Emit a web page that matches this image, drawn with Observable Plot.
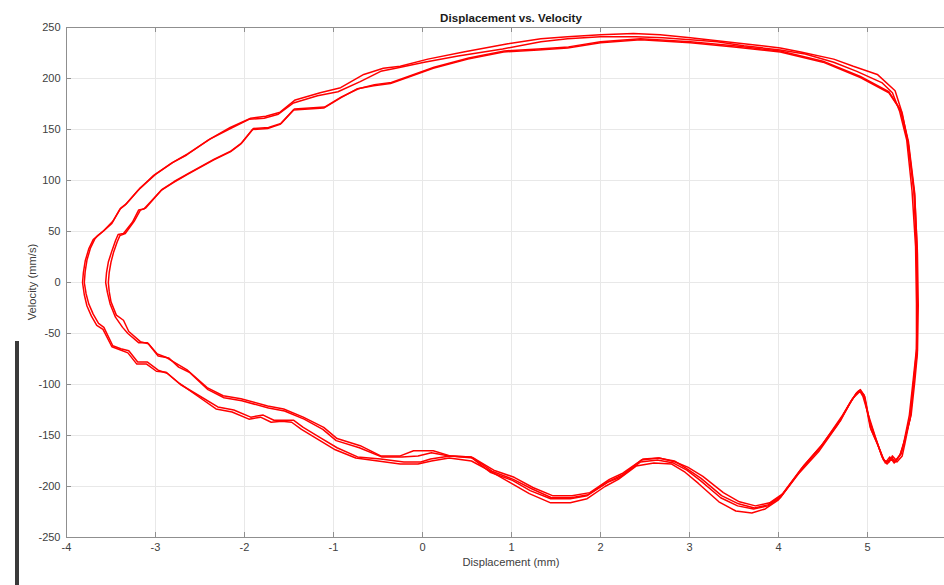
<!DOCTYPE html>
<html>
<head>
<meta charset="utf-8">
<script src="https://cdn.jsdelivr.net/npm/d3@7"></script>
<script src="https://cdn.jsdelivr.net/npm/@observablehq/plot@0.6"></script>
<style>
  html, body { margin: 0; padding: 0; background: #fff; overflow: hidden; }
  #wrap { position: relative; width: 944px; height: 585px; overflow: hidden; font-family: "Liberation Sans", Arial, sans-serif; }
  .title { position: absolute; left: 66px; width: 890px; top: 11px; text-align: center; font-weight: bold; font-size: 11.6px; color: #1a1a1a; }
  .xlabel { position: absolute; left: 66px; width: 890px; top: 556px; text-align: center; font-size: 11.2px; color: #404040; }
  .ylabel { position: absolute; left: 32px; top: 282px; transform: translate(-50%, -50%) rotate(-90deg); font-size: 11.2px; color: #404040; white-space: nowrap; }
  .bar { position: absolute; left: 15px; top: 341px; width: 4px; height: 244px; background: #3a3a3a; }
</style>
</head>
<body>
<div id="wrap"></div>
<script>
// ---- Data (displacement in mm, velocity in mm/s) ----
const titleText = "Displacement vs. Velocity";
const xLabelText = "Displacement (mm)";
const yLabelText = "Velocity (mm/s)";
const xTicks = [-4, -3, -2, -1, 0, 1, 2, 3, 4, 5];
const yTicks = [-250, -200, -150, -100, -50, 0, 50, 100, 150, 200, 250];

// cycle A: outer left tip, upper top line
const cycleA = [[-3.80,0],[-3.79,11],[-3.77,22],[-3.73,34],[-3.68,43],[-3.65,46],[-3.58,51],[-3.48,60],[-3.39,73],[-3.33,77],[-3.18,92],[-3.00,106],[-2.80,118],[-2.64,126],[-2.38,141],[-2.16,152],[-1.93,161],[-1.76,163],[-1.60,167],[-1.43,179],[-1.15,186],[-0.92,191],[-0.66,204],[-0.44,210],[-0.25,212],[0.06,219],[0.46,226],[0.96,234],[1.33,239],[1.63,241],[2.00,243],[2.37,244],[2.67,243],[3.01,240],[3.31,237],[3.61,234],[4.02,230],[4.25,226],[4.62,219],[4.84,212],[5.11,204],[5.31,188],[5.39,166],[5.46,135],[5.53,85],[5.56,31],[5.56,-18],[5.56,-67],[5.52,-96],[5.48,-132],[5.42,-158],[5.39,-170],[5.33,-176],[5.27,-172],[5.22,-176],[5.18,-174],[5.11,-158],[5.03,-142],[4.96,-110],[4.92,-106],[4.88,-108],[4.81,-117],[4.70,-135],[4.47,-162],[4.25,-184],[4.02,-211],[3.88,-219],[3.72,-222],[3.54,-219],[3.35,-211],[3.12,-194],[2.97,-184],[2.82,-177],[2.64,-174],[2.45,-176],[2.22,-191],[2.08,-196],[1.85,-209],[1.66,-212],[1.44,-212],[1.21,-204],[1.01,-194],[0.76,-186],[0.54,-171],[0.31,-170],[0.09,-173],[-0.02,-176],[-0.21,-176],[-0.47,-173],[-0.73,-171],[-0.96,-162],[-1.15,-152],[-1.34,-142],[-1.45,-135],[-1.56,-135],[-1.67,-135],[-1.79,-130],[-1.93,-132],[-2.12,-125],[-2.30,-122],[-2.49,-112],[-2.72,-100],[-2.87,-89],[-2.97,-86],[-3.09,-78],[-3.20,-78],[-3.30,-67],[-3.39,-65],[-3.48,-62],[-3.58,-44],[-3.64,-40],[-3.70,-31],[-3.75,-21],[-3.78,-11],[-3.80,0]];

// cycle B: outer left tip, middle top line
const cycleB = [[-3.82,0],[-3.81,10],[-3.79,21],[-3.75,33],[-3.70,42],[-3.66,45],[-3.59,50],[-3.49,58],[-3.40,72],[-3.34,76],[-3.20,90],[-3.02,105],[-2.82,117],[-2.65,125],[-2.40,140],[-2.18,150],[-1.95,160],[-1.78,161],[-1.62,165],[-1.45,176],[-1.18,183],[-0.95,187],[-0.70,197],[-0.47,207],[-0.30,210],[0.02,216],[0.40,222],[0.90,229],[1.33,236],[1.63,239],[2.00,241],[2.40,241],[2.70,240],[3.01,238],[3.31,236],[3.61,232],[4.02,228],[4.30,224],[4.62,216],[4.88,207],[5.16,196],[5.28,186],[5.36,168],[5.44,140],[5.50,90],[5.54,35],[5.55,-20],[5.55,-65],[5.51,-98],[5.47,-130],[5.41,-156],[5.37,-168],[5.30,-177],[5.25,-171],[5.20,-177],[5.16,-170],[5.09,-152],[5.01,-130],[4.95,-112],[4.91,-106],[4.87,-109],[4.79,-120],[4.66,-140],[4.45,-166],[4.22,-188],[4.00,-213],[3.85,-222],[3.70,-226],[3.52,-224],[3.33,-215],[3.10,-197],[2.95,-186],[2.80,-178],[2.60,-177],[2.40,-180],[2.20,-193],[2.05,-200],[1.85,-212],[1.66,-216],[1.44,-216],[1.20,-207],[0.98,-196],[0.74,-184],[0.55,-175],[0.30,-172],[0.10,-175],[-0.05,-178],[-0.25,-178],[-0.50,-175],[-0.75,-172],[-0.98,-164],[-1.17,-154],[-1.36,-144],[-1.47,-137],[-1.58,-136],[-1.70,-137],[-1.82,-132],[-1.95,-134],[-2.14,-127],[-2.32,-124],[-2.50,-113],[-2.73,-99],[-2.88,-88],[-2.99,-87],[-3.10,-80],[-3.21,-80],[-3.31,-69],[-3.40,-66],[-3.49,-63],[-3.59,-46],[-3.66,-42],[-3.72,-33],[-3.77,-23],[-3.80,-12],[-3.82,0]];

// cycle C: inner left tip, lower top line
const cycleC = [[-3.56,0],[-3.55,10],[-3.53,20],[-3.49,31],[-3.45,41],[-3.42,47],[-3.36,48],[-3.26,59],[-3.19,71],[-3.13,72],[-2.94,90],[-2.80,98],[-2.64,106],[-2.35,120],[-2.16,128],[-2.04,136],[-1.91,150],[-1.74,151],[-1.60,155],[-1.45,169],[-1.11,171],[-0.92,181],[-0.73,190],[-0.55,193],[-0.36,195],[-0.17,201],[0.12,210],[0.51,219],[0.91,226],[1.30,228],[1.63,230],[2.00,235],[2.45,238],[3.01,235],[3.50,231],[4.02,226],[4.50,216],[4.92,201],[5.24,186],[5.37,169],[5.45,140],[5.52,90],[5.55,30],[5.56,-20],[5.55,-68],[5.52,-96],[5.48,-133],[5.40,-160],[5.36,-170],[5.31,-176],[5.27,-173],[5.22,-178],[5.17,-172],[5.10,-155],[5.02,-135],[4.97,-114],[4.93,-107],[4.90,-108],[4.83,-114],[4.72,-130],[4.50,-158],[4.28,-180],[4.05,-207],[3.90,-216],[3.74,-219],[3.56,-215],[3.38,-206],[3.15,-190],[2.98,-181],[2.84,-176],[2.66,-172],[2.48,-173],[2.25,-187],[2.10,-193],[1.88,-206],[1.68,-209],[1.46,-209],[1.24,-201],[1.03,-191],[0.80,-184],[0.57,-172],[0.31,-170],[0.12,-165],[-0.10,-165],[-0.25,-170],[-0.47,-170],[-0.70,-160],[-0.96,-153],[-1.11,-142],[-1.34,-132],[-1.56,-124],[-1.74,-121],[-2.04,-114],[-2.24,-111],[-2.42,-103],[-2.64,-86],[-2.83,-76],[-2.89,-73],[-2.98,-70],[-3.09,-59],[-3.19,-59],[-3.31,-50],[-3.37,-44],[-3.45,-34],[-3.51,-21],[-3.54,-10],[-3.56,0]];

// cycle D: inner left tip, second pass
const cycleD = [[-3.53,0],[-3.52,10],[-3.50,20],[-3.47,30],[-3.43,40],[-3.40,46],[-3.34,48],[-3.24,60],[-3.17,71],[-3.11,73],[-2.93,91],[-2.79,99],[-2.63,107],[-2.34,121],[-2.15,129],[-2.03,137],[-1.90,151],[-1.73,152],[-1.59,156],[-1.44,170],[-1.10,172],[-0.91,182],[-0.72,190],[-0.54,194],[-0.35,196],[-0.16,202],[0.13,211],[0.52,220],[0.92,227],[1.30,229],[1.64,231],[2.00,236],[2.45,239],[3.01,236],[3.50,232],[4.02,227],[4.50,217],[4.92,202],[5.24,187],[5.38,168],[5.46,138],[5.53,88],[5.56,28],[5.57,-22],[5.56,-70],[5.53,-98],[5.49,-130],[5.41,-157],[5.38,-168],[5.32,-174],[5.28,-170],[5.24,-176],[5.19,-175],[5.12,-160],[5.04,-144],[4.97,-112],[4.92,-105],[4.89,-107],[4.82,-116],[4.70,-134],[4.48,-160],[4.26,-182],[4.03,-209],[3.88,-218],[3.73,-221],[3.55,-217],[3.36,-209],[3.13,-192],[2.96,-182],[2.83,-175],[2.65,-172],[2.46,-174],[2.24,-189],[2.09,-195],[1.86,-208],[1.67,-211],[1.45,-211],[1.22,-202],[1.02,-193],[0.78,-185],[0.55,-171],[0.30,-170],[0.10,-167],[-0.05,-170],[-0.23,-171],[-0.46,-171],[-0.71,-162],[-0.97,-155],[-1.12,-144],[-1.33,-134],[-1.55,-126],[-1.73,-123],[-2.03,-116],[-2.23,-113],[-2.41,-105],[-2.62,-88],[-2.74,-83],[-2.85,-74],[-2.97,-72],[-3.08,-60],[-3.17,-58],[-3.30,-48],[-3.36,-37],[-3.44,-32],[-3.50,-19],[-3.52,-9],[-3.53,0]];

const cycles = {A: cycleA, B: cycleB, C: cycleC, D: cycleD};
const rows = [];
for (const [name, pts] of Object.entries(cycles)) {
  for (const [d, v] of pts) rows.push({cycle: name, disp: d, vel: v});
}

const axisColor = "#8f8f8f";
const gridColor = "#e8e8e8";
const textColor = "#404040";
const fmt = d => String(d);

const chart = Plot.plot({
  width: 944,
  height: 585,
  marginLeft: 66,
  marginRight: 0,
  marginTop: 27,
  marginBottom: 48,
  style: {fontFamily: "'Liberation Sans', Arial, sans-serif", fontSize: "11px", color: textColor, background: "white", overflow: "visible"},
  x: {domain: [-4, 5.865], label: null},
  y: {domain: [-250, 250], label: null},
  marks: [
    Plot.gridX(xTicks, {stroke: gridColor, strokeOpacity: 1}),
    Plot.gridY(yTicks, {stroke: gridColor, strokeOpacity: 1}),
    Plot.ruleX([-4], {stroke: axisColor}),
    Plot.ruleY([-250, 250], {stroke: axisColor}),
    Plot.tickX(xTicks, {x: d => d, insetTop: 505, stroke: axisColor}),
    Plot.tickX(xTicks, {x: d => d, insetBottom: 505, stroke: axisColor}),
    Plot.tickY(yTicks, {y: d => d, insetRight: 873, stroke: axisColor}),
    Plot.axisX(xTicks, {tickSize: 0, tickPadding: 6, tickFormat: fmt, label: null, fill: textColor}),
    Plot.axisY(yTicks, {tickSize: 0, tickPadding: 6, tickFormat: fmt, label: null, fill: textColor}),
    Plot.line(rows, {x: "disp", y: "vel", z: "cycle", stroke: "#ff0000", strokeWidth: 1.5, curve: "linear"})
  ]
});

const wrap = document.getElementById("wrap");
wrap.appendChild(chart);
const t = document.createElement("div"); t.className = "title"; t.textContent = titleText; wrap.appendChild(t);
const xl = document.createElement("div"); xl.className = "xlabel"; xl.textContent = xLabelText; wrap.appendChild(xl);
const yl = document.createElement("div"); yl.className = "ylabel"; yl.textContent = yLabelText; wrap.appendChild(yl);
const bar = document.createElement("div"); bar.className = "bar"; wrap.appendChild(bar);
</script>
</body>
</html>
